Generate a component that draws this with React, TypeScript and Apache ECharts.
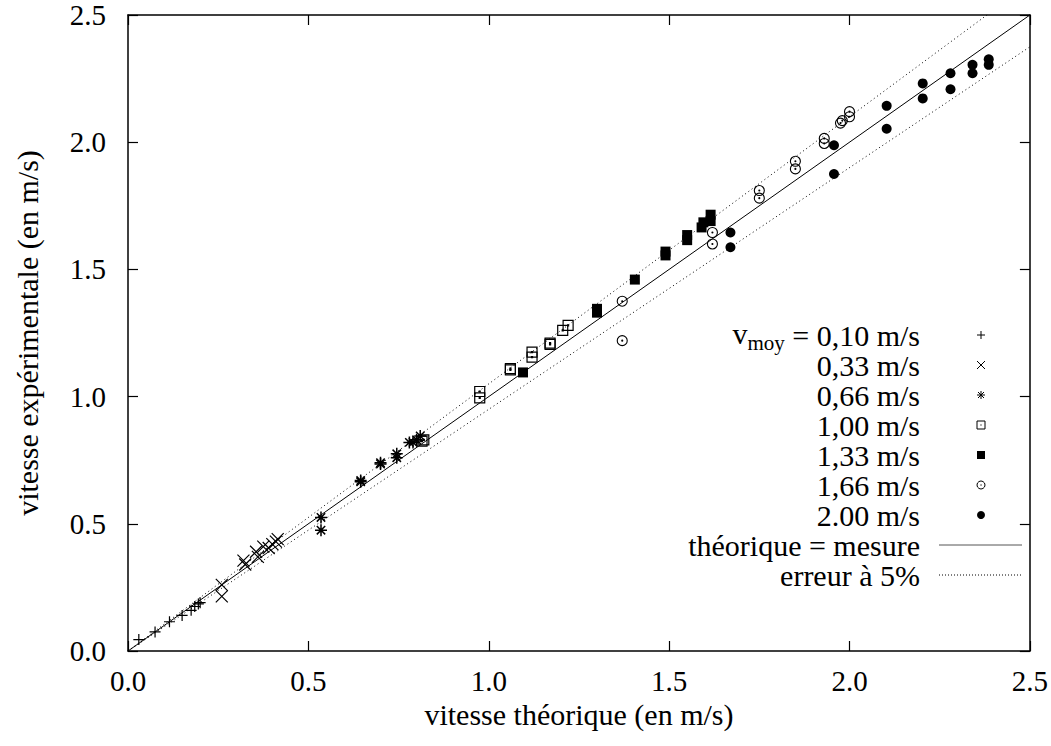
import React, { useEffect, useRef } from "react";
import * as echarts from "echarts";

// ---- data ----
const v010 = [[0.03, 0.045], [0.075, 0.075], [0.115, 0.115], [0.15, 0.14], [0.175, 0.16], [0.185, 0.175], [0.195, 0.185], [0.2, 0.19]];
const v033 = [[0.26, 0.26], [0.26, 0.215], [0.32, 0.355], [0.325, 0.34], [0.355, 0.39], [0.36, 0.37], [0.375, 0.41], [0.39, 0.405], [0.4, 0.42], [0.41, 0.43], [0.415, 0.44]];
const v066 = [[0.535, 0.525], [0.535, 0.475], [0.645, 0.665], [0.645, 0.67], [0.7, 0.735], [0.7, 0.74], [0.745, 0.76], [0.745, 0.775], [0.78, 0.82], [0.79, 0.82], [0.8, 0.83], [0.81, 0.845]];
const v100 = [[0.815, 0.825], [0.82, 0.83], [0.975, 1.02], [0.975, 0.995], [1.06, 1.11], [1.06, 1.105], [1.12, 1.175], [1.12, 1.155], [1.17, 1.205], [1.17, 1.21], [1.205, 1.26], [1.22, 1.28]];
const v133 = [[1.095, 1.095], [1.3, 1.33], [1.3, 1.345], [1.405, 1.46], [1.49, 1.555], [1.49, 1.57], [1.55, 1.615], [1.55, 1.635], [1.59, 1.665], [1.595, 1.685], [1.615, 1.69], [1.615, 1.715]];
const v166 = [[1.37, 1.375], [1.37, 1.22], [1.62, 1.645], [1.62, 1.6], [1.75, 1.81], [1.75, 1.78], [1.85, 1.925], [1.85, 1.895], [1.93, 2.015], [1.93, 1.995], [1.975, 2.075], [1.98, 2.085], [2.0, 2.12], [2.0, 2.1]];
const v200 = [[1.67, 1.645], [1.67, 1.587], [1.957, 1.988], [1.957, 1.875], [2.103, 2.143], [2.103, 2.053], [2.203, 2.231], [2.203, 2.172], [2.28, 2.271], [2.28, 2.208], [2.341, 2.304], [2.341, 2.271], [2.386, 2.326], [2.386, 2.304]];

const theoryLine = [[0, 0], [2.5, 2.5]];
const errorUpper = [[0, 0], [2.5, 2.625]];
const errorLower = [[0, 0], [2.5, 2.375]];

const seriesLabels = ["0,10 m/s", "0,33 m/s", "0,66 m/s", "1,00 m/s", "1,33 m/s", "1,66 m/s", "2.00 m/s"];
const lineLabels = ["théorique = mesure", "erreur à 5%"];
const subscriptPrefix = ["v", "moy"];
const tickFormat = (v: number) => v.toFixed(1);

const xTitle = "vitesse théorique (en m/s)";
const yTitle = "vitesse expérimentale (en m/s)";

const FONT = "Liberation Serif";
const FS_TICK = 29;
const FS = 30;

const SYM_PLUS = "path://M0,5L10,5M5,0L5,10";
const SYM_CROSS = "path://M0,0L10,10M0,10L10,0";
const SYM_STAR = "path://M0,5L10,5M5,0L5,10M1.5,1.5L8.5,8.5M1.5,8.5L8.5,1.5";
const SYM_BOXDOT = "path://M0,0L10,0L10,10L0,10Z M4.5,4.5L5.5,4.5L5.5,5.5L4.5,5.5Z";
const SYM_CIRCDOT = "path://M0,5A5,5,0,1,1,10,5A5,5,0,1,1,0,5Z M4.5,5A0.5,0.5,0,1,1,5.5,5A0.5,0.5,0,1,1,4.5,5Z";

function measure(text: string, size: number) {
  const c = document.createElement("canvas").getContext("2d");
  if (!c) return text.length * size * 0.45;
  c.font = `${size}px "Liberation Serif"`;
  return c.measureText(text).width;
}

export default function App() {
  const ref = useRef<HTMLDivElement>(null);

  useEffect(() => {
    if (!ref.current) return;
    const chart = echarts.init(ref.current, null, { renderer: "svg" });

    const stroke = (w: number) => ({ color: "rgba(0,0,0,0)", borderColor: "#000", borderWidth: w, opacity: 1 });
    const fill = { color: "#000", opacity: 1 };

    const scatter = (name: string, data: number[][], symbol: string, size: number, itemStyle: any) => ({
      name,
      type: "scatter",
      data,
      symbol,
      symbolSize: size,
      itemStyle,
      emphasis: { disabled: true },
      z: 3,
    });

    const line = (name: string, data: number[][], type: any, color: string) => ({
      name,
      type: "line",
      data,
      showSymbol: false,
      symbol: "none",
      clip: true,
      lineStyle: { color, width: 1, type },
      emphasis: { disabled: true },
      z: 2,
    });

    const lx = 920;
    const sx = 981;
    const row0 = 335;
    const dy = 30;
    const g: any[] = [];
    const textStyle = (text: string, x: number, y: number, size = FS, align = "right") => ({
      type: "text",
      x,
      y,
      style: { text, fill: "#000", fontSize: size, fontFamily: FONT, align, verticalAlign: "middle" },
    });
    const eqText = " = " + seriesLabels[0];
    const eqW = measure(eqText, FS);
    const moyW = measure(subscriptPrefix[1], 21);
    g.push(textStyle(eqText, lx, row0));
    g.push(textStyle(subscriptPrefix[1], lx - eqW, row0 + 8, 21));
    g.push(textStyle(subscriptPrefix[0], lx - eqW - moyW, row0 - 2));
    for (let i = 1; i < seriesLabels.length; i++) g.push(textStyle(seriesLabels[i], lx, row0 + i * dy));
    lineLabels.forEach((t, j) => g.push(textStyle(t, lx, row0 + (seriesLabels.length + j) * dy)));

    const ls = { stroke: "#000", lineWidth: 1 };
    const h = 4;
    const seg = (x1: number, y1: number, x2: number, y2: number, style: any = ls) => ({ type: "line", shape: { x1, y1, x2, y2 }, style });
    let y = row0;
    g.push(seg(sx - h, y, sx + h, y), seg(sx, y - h, sx, y + h));
    y = row0 + dy;
    g.push(seg(sx - h, y - h, sx + h, y + h), seg(sx - h, y + h, sx + h, y - h));
    y = row0 + 2 * dy;
    g.push(seg(sx - h, y, sx + h, y), seg(sx, y - h, sx, y + h), seg(sx - 3, y - 3, sx + 3, y + 3), seg(sx - 3, y + 3, sx + 3, y - 3));
    y = row0 + 3 * dy;
    g.push({ type: "rect", shape: { x: sx - h, y: y - h, width: 2 * h, height: 2 * h }, style: { fill: "none", stroke: "#000", lineWidth: 1 } });
    g.push({ type: "rect", shape: { x: sx - 0.6, y: y - 0.6, width: 1.2, height: 1.2 }, style: { fill: "#000" } });
    y = row0 + 4 * dy;
    g.push({ type: "rect", shape: { x: sx - h, y: y - h, width: 2 * h, height: 2 * h }, style: { fill: "#000" } });
    y = row0 + 5 * dy;
    g.push({ type: "circle", shape: { cx: sx, cy: y, r: h }, style: { fill: "none", stroke: "#000", lineWidth: 1 } });
    g.push({ type: "circle", shape: { cx: sx, cy: y, r: 0.6 }, style: { fill: "#000" } });
    y = row0 + 6 * dy;
    g.push({ type: "circle", shape: { cx: sx, cy: y, r: h }, style: { fill: "#000" } });
    y = row0 + 7 * dy;
    g.push(seg(939, y, 1022, y, { stroke: "#555", lineWidth: 1 }));
    y = row0 + 8 * dy;
    g.push(seg(939, y, 1022, y, { stroke: "#000", lineWidth: 1, lineDash: [1, 2] }));

    const axisCommon = {
      type: "value",
      min: 0,
      max: 2.5,
      interval: 0.5,
      axisLine: { show: true, onZero: false, lineStyle: { color: "#000", width: 1.5 } },
      axisTick: { show: true, inside: true, length: 10, lineStyle: { color: "#000", width: 1.2 } },
      splitLine: { show: false },
    };
    const labelCommon = { fontSize: FS_TICK, fontFamily: FONT, color: "#000", formatter: tickFormat };

    chart.setOption({
      animation: false,
      grid: { left: 128, top: 15, right: 21, bottom: 95, containLabel: false, show: false },
      xAxis: [
        {
          ...axisCommon,
          position: "bottom",
          axisLabel: { ...labelCommon, margin: 15 },
          name: xTitle,
          nameLocation: "middle",
          nameGap: 30,
          nameTextStyle: { fontSize: FS, fontFamily: FONT, color: "#000" },
        },
        { ...axisCommon, position: "top", axisLabel: { show: false } },
      ],
      yAxis: [
        {
          ...axisCommon,
          position: "left",
          axisLabel: { ...labelCommon, margin: 22 },
          name: yTitle,
          nameLocation: "middle",
          nameGap: 86,
          nameTextStyle: { fontSize: FS, fontFamily: FONT, color: "#000" },
        },
        { ...axisCommon, position: "right", axisLabel: { show: false } },
      ],
      series: [
        line(lineLabels[0], theoryLine, "solid", "#000"),
        line(lineLabels[1], errorUpper, [1, 3], "#000"),
        line(lineLabels[1] + " (bas)", errorLower, [1, 3], "#000"),
        scatter(seriesLabels[0], v010, SYM_PLUS, 11, stroke(1.2)),
        scatter(seriesLabels[1], v033, SYM_CROSS, 12, stroke(1.2)),
        scatter(seriesLabels[2], v066, SYM_STAR, 12, stroke(1.5)),
        scatter(seriesLabels[3], v100, SYM_BOXDOT, 10, stroke(1.2)),
        scatter(seriesLabels[4], v133, "rect", 10, fill),
        scatter(seriesLabels[5], v166, SYM_CIRCDOT, 10, stroke(1.1)),
        scatter(seriesLabels[6], v200, "circle", 10, fill),
      ],
      graphic: g,
    });

    return () => chart.dispose();
  }, []);

  return <div ref={ref} style={{ position: "fixed", left: 0, top: 0, width: 1051, height: 746, background: "#fff" }} />;
}
